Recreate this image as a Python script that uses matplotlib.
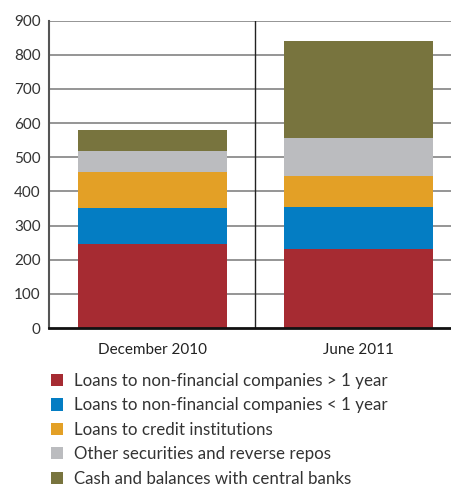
import matplotlib
matplotlib.use("Agg")
import matplotlib.pyplot as plt

categories = ["December 2010", "June 2011"]
series_names = [
    "Loans to non-financial companies > 1 year",
    "Loans to non-financial companies < 1 year",
    "Loans to credit institutions",
    "Other securities and reverse repos",
    "Cash and balances with central banks",
]
loans_long = [247, 231]
loans_short = [105, 123]
credit_inst = [105, 91]
other_sec = [61, 112]
cash = [62, 284]
colors = ["#a62b32", "#047dc3", "#e3a026", "#bbbcbf", "#78743e"]
yticks = [0, 100, 200, 300, 400, 500, 600, 700, 800, 900]

plt.rcParams['font.family'] = ['Lato', 'DejaVu Sans']

fig = plt.figure(figsize=(4.51, 4.88), dpi=100)
ax = fig.add_axes([49/451, 1-328/488, 1-49/451, (328-20.7)/488])

x = list(range(len(categories)))
bottom = [0, 0]
handles = []
for vals, col, name in zip([loans_long, loans_short, credit_inst, other_sec, cash], colors, series_names):
    b = ax.bar(x, vals, width=0.723, bottom=bottom, color=col, label=name, zorder=2)
    handles.append(b)
    bottom = [bo + v for bo, v in zip(bottom, vals)]

ax.set_ylim(0, 900)
ax.set_xlim(-0.502, 1.449)
ax.set_yticks(yticks)
ax.set_yticklabels([str(t) for t in yticks], fontsize=11, color="#333333")
ax.set_xticks(x)
ax.set_xticklabels(categories, fontsize=11, color="#222222")
ax.tick_params(axis='y', length=0, pad=6)
ax.tick_params(axis='x', length=0, pad=11)
for t in yticks[1:]:
    ax.axhline(t, color="#8c8c8c", lw=1.3, zorder=1)
ax.axvline(0.5, color="#222222", lw=1.0, zorder=1)
for s in ["top", "right"]:
    ax.spines[s].set_visible(False)
ax.spines["left"].set_color("#555555")
ax.spines["left"].set_linewidth(1.5)
ax.spines["bottom"].set_color("#111111")
ax.spines["bottom"].set_linewidth(2)
ax.spines["bottom"].set_zorder(3)

fig.legend(handles=handles, labels=series_names, loc="upper left",
           bbox_to_anchor=(44/451, 1-366/488), frameon=False, fontsize=12.2,
           handlelength=0.75, handleheight=0.75, handletextpad=0.6,
           labelspacing=0.5, borderaxespad=0, labelcolor="#333333")

fig.savefig("out.png", dpi=100)
